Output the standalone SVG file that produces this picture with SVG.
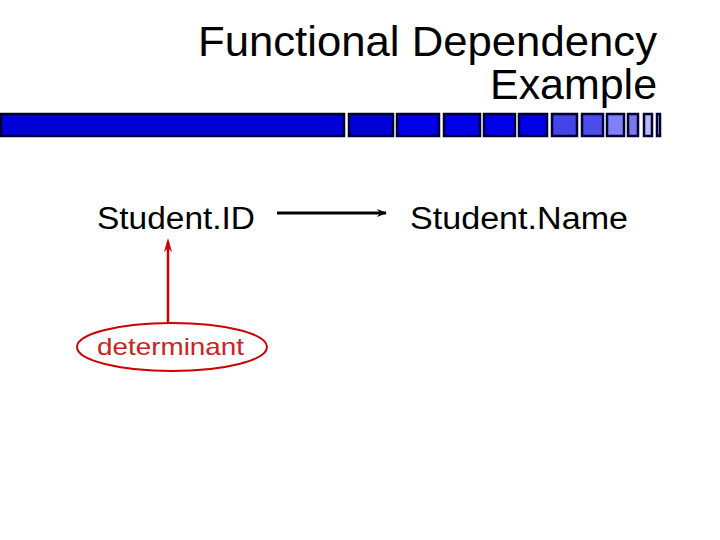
<svg xmlns="http://www.w3.org/2000/svg" width="720" height="540" viewBox="0 0 720 540">
<style>
.t{font-family:"Liberation Sans",Arial,sans-serif;fill:#000}
.b{stroke:#000033;stroke-width:2.5}
</style>
<defs>
<marker id="ah" markerWidth="10" markerHeight="8" refX="9" refY="4" orient="auto" markerUnits="userSpaceOnUse"><path d="M0,0 L10,4 L0,8 L3,4 Z" fill="#000"/></marker>
</defs>
<rect width="720" height="540" fill="#fff"/>
<g id="title">
<text class="t" x="657" y="56" font-size="42" text-anchor="end" textLength="459" lengthAdjust="spacingAndGlyphs">Functional Dependency</text>
<text class="t" x="657" y="99" font-size="42" text-anchor="end" textLength="167" lengthAdjust="spacingAndGlyphs">Example</text>
</g>
<g id="bar">
<rect class="b" x="1" y="114" width="343" height="22" fill="#0000d8"/>
<rect class="b" x="349" y="114" width="44" height="22" fill="#0000d8"/>
<rect class="b" x="397" y="114" width="42" height="22" fill="#0000e8"/>
<rect class="b" x="444" y="114" width="36" height="22" fill="#0000e8"/>
<rect class="b" x="484" y="114" width="31" height="22" fill="#0000e8"/>
<rect class="b" x="519" y="114" width="28" height="22" fill="#0000e8"/>
<rect class="b" x="552" y="114" width="25" height="22" fill="#4444e8"/>
<rect class="b" x="582" y="114" width="21" height="22" fill="#4c4ce8"/>
<rect class="b" x="607" y="114" width="17" height="22" fill="#8080f4"/>
<rect class="b" x="628" y="114" width="10" height="22" fill="#7878e8"/>
<rect class="b" x="644" y="114" width="8" height="22" fill="#b8b8f4"/>
<rect class="b" x="657" y="114" width="3" height="22" fill="#e0e0ff"/>
</g>
<g id="connectors">
<line x1="277" y1="213" x2="386" y2="213" stroke="#000" stroke-width="3" marker-end="url(#ah)"/>
<line x1="168" y1="323" x2="168" y2="242" stroke="#cc0000" stroke-width="2.5"/>
<path d="M164,252 L168,238 L172,252 L168,248 Z" fill="#cc0000"/>
</g>
<g id="studentid">
<text class="t" x="97" y="229" font-size="31" textLength="158" lengthAdjust="spacingAndGlyphs">Student.ID</text>
</g>
<g id="studentname">
<text class="t" x="410" y="229" font-size="31" textLength="218" lengthAdjust="spacingAndGlyphs">Student.Name</text>
</g>
<g id="determinant">
<ellipse cx="172" cy="347" rx="95" ry="24" fill="none" stroke="#cc0000" stroke-width="2"/>
<text x="97" y="355" font-size="24" font-family="Liberation Sans,Arial,sans-serif" fill="#cc2222" textLength="147" lengthAdjust="spacingAndGlyphs">determinant</text>
</g>
</svg>
